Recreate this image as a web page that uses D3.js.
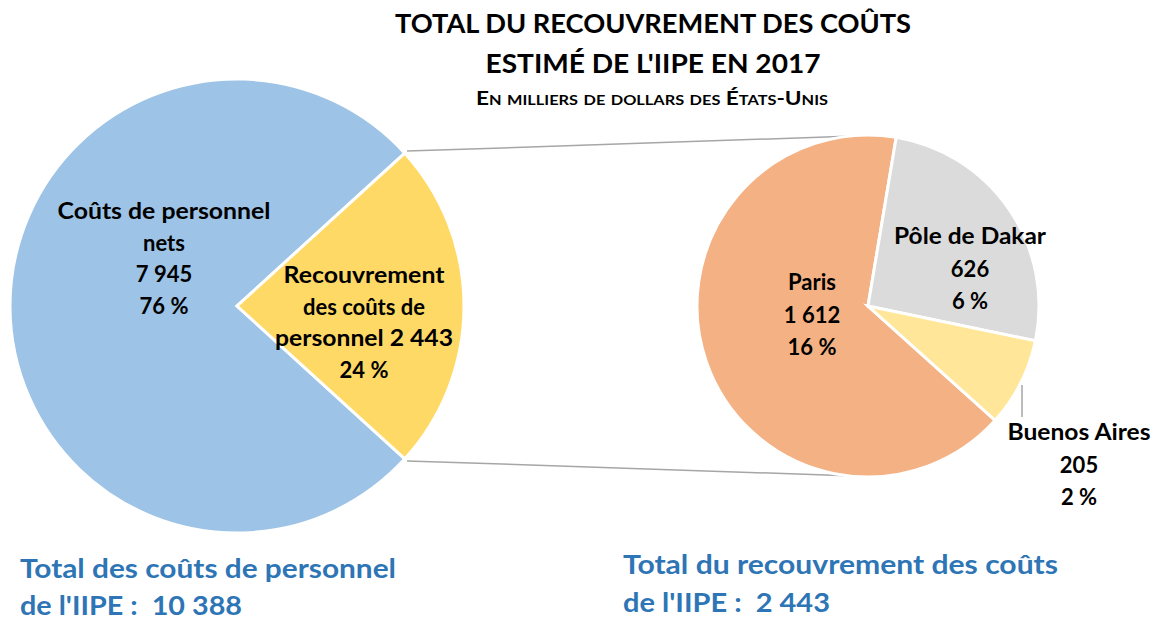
<!DOCTYPE html>
<html>
<head>
<meta charset="utf-8">
<script src="https://cdn.jsdelivr.net/npm/d3@7"></script>
<style>
  html, body { margin: 0; padding: 0; background: #fff; }
  svg { display: block; font-family: Lato, "Open Sans", "Noto Sans", sans-serif; font-weight: bold; }
  text { white-space: pre; }
</style>
</head>
<body>
<svg id="chart" width="1162" height="620"></svg>
<script>
// ---- data ----
const mainCategories = ["Coûts de personnel nets", "Recouvrement des coûts de personnel"];
const mainValues = [7945, 2443];
const mainPercents = ["76 %", "24 %"];
const subCategories = ["Paris", "Pôle de Dakar", "Buenos Aires"];
const subValues = [1612, 626, 205];
const subPercents = ["16 %", "6 %", "2 %"];
const totalPersonnel = 10388;
const totalRecouvrement = 2443;

const fmt = v => d3.format(",")(v).replace(/,/g, " ");

const svg = d3.select("#chart");

// ---- colors ----
const mainColor = d3.scaleOrdinal().domain(mainCategories).range(["#9DC3E6", "#FFD966"]);
const subColor = d3.scaleOrdinal().domain(subCategories).range(["#F4B183", "#DBDBDB", "#FFE699"]);

// ---- geometry ----
const L = {cx: 237, cy: 306, r: 227};
const R = {cx: 868, cy: 306, r: 171};

const mainTotal = d3.sum(mainValues);
const secAngle = mainValues[1] / mainTotal * 2 * Math.PI;
const mainStart = Math.PI / 2 + secAngle / 2;
const mainPie = d3.pie().sort(null).startAngle(mainStart).endAngle(mainStart + 2 * Math.PI);
const mainArcs = mainPie(mainValues);
const arcL = d3.arc().innerRadius(0).outerRadius(L.r);

const subTotal = d3.sum(subValues);
const dakarStart = 9.5 * Math.PI / 180;
const subStart = dakarStart - subValues[0] / subTotal * 2 * Math.PI;
const subPie = d3.pie().sort(null).startAngle(subStart).endAngle(subStart + 2 * Math.PI);
const subArcs = subPie(subValues);
const arcR = d3.arc().innerRadius(0).outerRadius(R.r);

// connector lines
const secArc = mainArcs[1];
const pt = (c, r, a) => [c.cx + r * Math.sin(a), c.cy - r * Math.cos(a)];
const connA = -7 * Math.PI / 180;
const conn = [
  [pt(L, L.r + 3, secArc.startAngle), pt(R, R.r, connA)],
  [pt(L, L.r + 3, secArc.endAngle), pt(R, R.r, Math.PI - connA)]
];
svg.append("g").selectAll("line").data(conn).join("line")
  .attr("x1", d => d[0][0]).attr("y1", d => d[0][1])
  .attr("x2", d => d[1][0]).attr("y2", d => d[1][1])
  .attr("stroke", "#A6A6A6").attr("stroke-width", 1.5);

svg.append("g").attr("transform", `translate(${L.cx},${L.cy})`)
  .selectAll("path").data(mainArcs).join("path")
  .attr("d", arcL)
  .attr("fill", (d, i) => mainColor(mainCategories[i]))
  .attr("stroke", "#fff").attr("stroke-width", 3).attr("stroke-linejoin", "miter");

svg.append("g").attr("transform", `translate(${R.cx},${R.cy})`)
  .selectAll("path").data(subArcs).join("path")
  .attr("d", arcR)
  .attr("fill", (d, i) => subColor(subCategories[i]))
  .attr("stroke", "#fff").attr("stroke-width", 3).attr("stroke-linejoin", "miter");

// leader line for Buenos Aires
svg.append("line").attr("x1", 1022).attr("y1", 385).attr("x2", 1022).attr("y2", 417)
  .attr("stroke", "#A6A6A6").attr("stroke-width", 1.5);

// ---- labels ----
function block(x, y, lines, size, spacing, fill, anchor, widths) {
  const t = svg.append("text").attr("fill", fill).attr("font-size", size)
    .attr("text-anchor", anchor || "middle");
  lines.forEach((ln, i) => {
    const ts = t.append("tspan").attr("x", x).attr("y", y + i * spacing).text(ln);
    if (widths && widths[i]) ts.attr("textLength", widths[i]).attr("lengthAdjust", "spacingAndGlyphs");
  });
  return t;
}

block(164, 219, ["Coûts de personnel", "nets", fmt(mainValues[0]), mainPercents[0]], 22, 31.5, "#000", "middle",
  [213, 0, 0, 0]);
block(364, 283, ["Recouvrement", "des coûts de", "personnel " + fmt(mainValues[1]), mainPercents[1]], 22, 31.5, "#000", "middle",
  [161, 0, 178, 0]);

block(812, 290, [subCategories[0], fmt(subValues[0]), subPercents[0]], 22, 32.5, "#000", "middle");
block(970, 244, [subCategories[1], fmt(subValues[1]), subPercents[1]], 22, 32.5, "#000", "middle", [152, 0, 0]);
block(1079, 440, [subCategories[2], fmt(subValues[2]), subPercents[2]], 22, 32.5, "#000", "middle", [143, 0, 0]);

// title
block(653, 33, ["TOTAL DU RECOUVREMENT DES COÛTS"], 26, 0, "#000", "middle", [516]);
block(653, 73, ["ESTIMÉ DE L'IIPE EN 2017"], 26, 0, "#000", "middle", [335]);
svg.append("text").attr("x", 652).attr("y", 105).attr("text-anchor", "middle")
  .attr("font-size", 18).attr("font-variant", "small-caps")
  .attr("textLength", 352).attr("lengthAdjust", "spacingAndGlyphs")
  .text("En milliers de dollars des États-Unis");

// bottom totals
block(20, 578, ["Total des coûts de personnel", "de l'IIPE :  " + fmt(totalPersonnel)], 27, 37, "#2E75B6", "start", [376, 222]);
block(623, 574, ["Total du recouvrement des coûts", "de l'IIPE :  " + fmt(totalRecouvrement)], 27, 38, "#2E75B6", "start", [435, 207]);
</script>
</body>
</html>
